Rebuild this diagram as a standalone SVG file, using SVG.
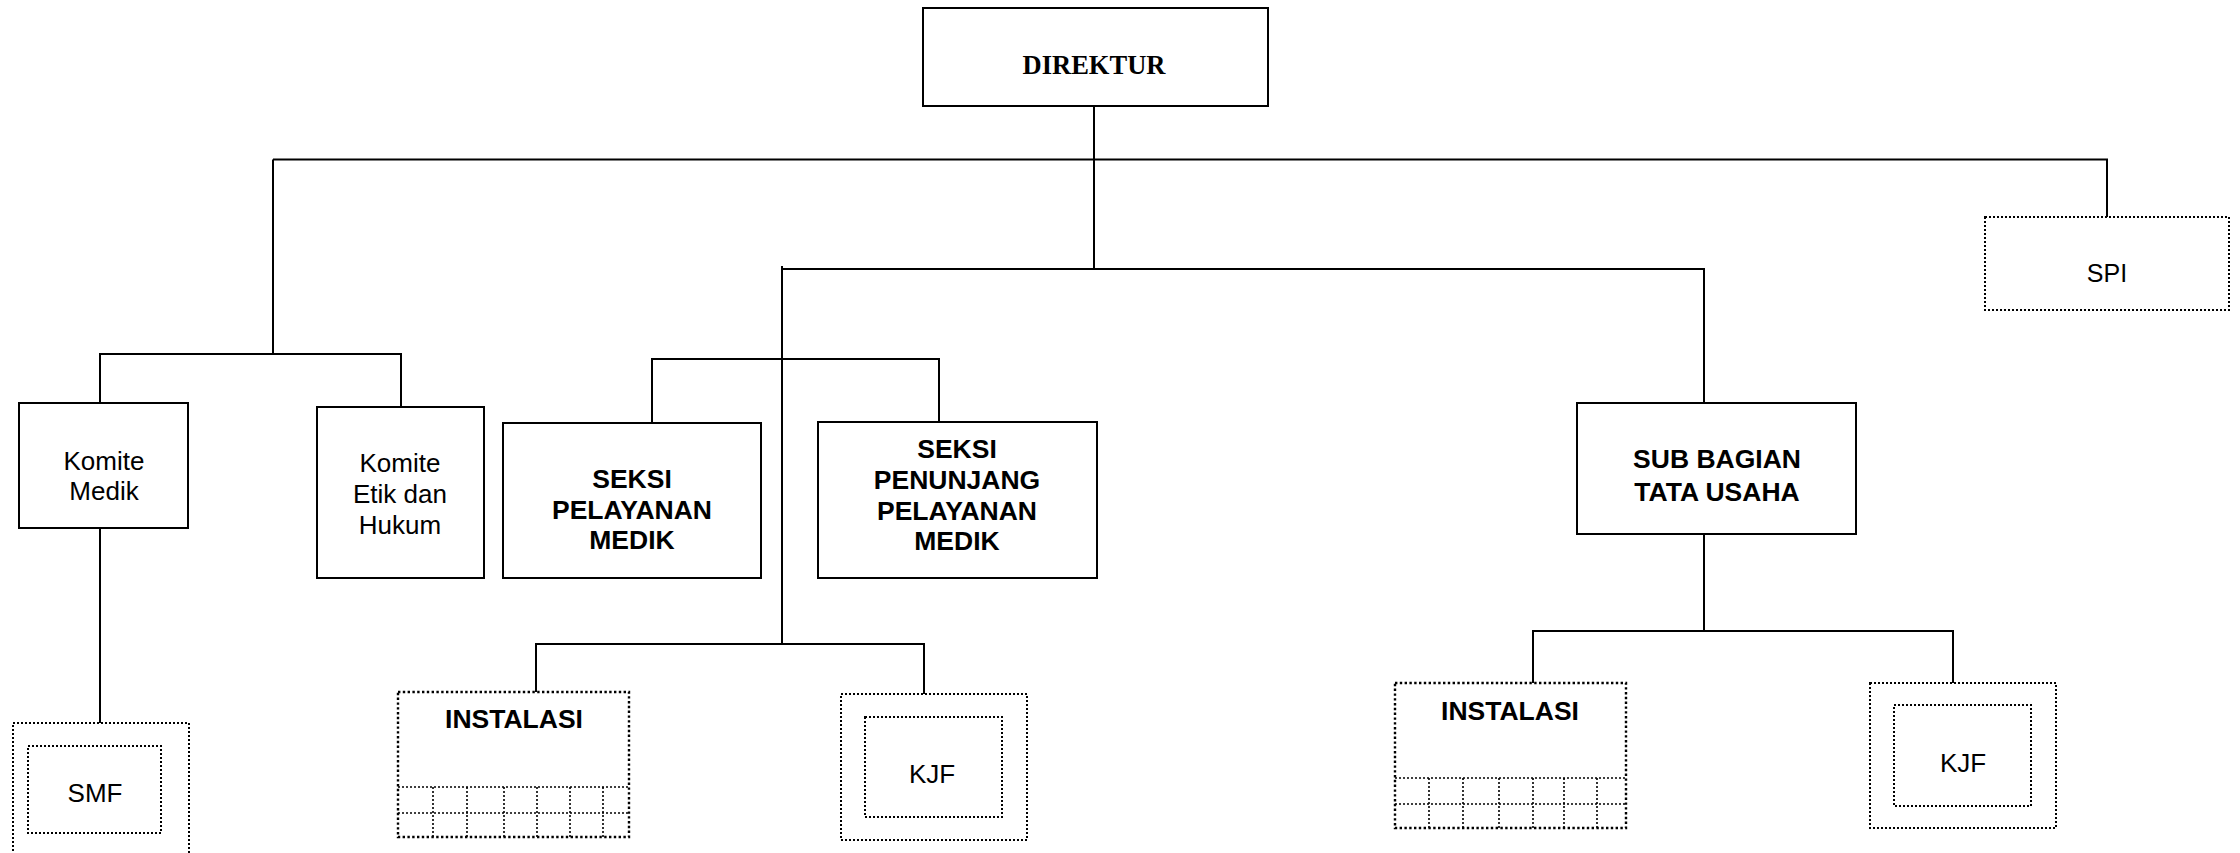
<svg xmlns="http://www.w3.org/2000/svg" width="2240" height="853" viewBox="0 0 2240 853">
<style>
.box{fill:#fff;stroke:#000;stroke-width:2}
.dot{fill:none;stroke:#000;stroke-width:2;stroke-dasharray:2 2}
.dot2{fill:none;stroke:#000;stroke-width:2.4;stroke-dasharray:2.4 2.4}
.grid{fill:none;stroke:#000;stroke-width:1.6;stroke-dasharray:2 2}
.ln{fill:none;stroke:#000;stroke-width:2}
.t{font-family:"Liberation Sans",Arial,sans-serif;font-size:26px;text-anchor:middle;fill:#000}
.b{font-family:"Liberation Sans",Arial,sans-serif;font-size:26.5px;font-weight:bold;text-anchor:middle;fill:#000}
.s{font-family:"Liberation Serif","Times New Roman",serif;font-size:26.5px;font-weight:bold;text-anchor:middle;fill:#000}
</style>
<rect width="2240" height="853" fill="#fff"/>
<g id="connectors">
<path class="ln" d="M1094 106V269"/>
<path class="ln" d="M273 159.5H2107V217"/>
<path class="ln" d="M273 159.5V354"/>
<path class="ln" d="M100 403V354H401V407"/>
<path class="ln" d="M100 528V723"/>
<path class="ln" d="M782 266V644"/>
<path class="ln" d="M782 269H1704V403"/>
<path class="ln" d="M652 423V359H939V422"/>
<path class="ln" d="M536 692V644H924V694"/>
<path class="ln" d="M1704 534V631"/>
<path class="ln" d="M1533 683V631H1953V683"/>
</g>
<g id="direktur">
<rect class="box" x="923" y="8" width="345" height="98"/>
<text class="s" x="1094" y="74">DIREKTUR</text>
</g>
<g id="spi">
<rect class="dot" x="1985" y="217" width="244" height="93"/>
<text class="t" x="2107" y="282" style="font-size:25px">SPI</text>
</g>
<g id="komite-medik">
<rect class="box" x="19" y="403" width="169" height="125"/>
<text class="t" x="104" y="470">Komite</text>
<text class="t" x="104" y="500">Medik</text>
</g>
<g id="komite-etik">
<rect class="box" x="317" y="407" width="167" height="171"/>
<text class="t" x="400" y="472">Komite</text>
<text class="t" x="400" y="503">Etik dan</text>
<text class="t" x="400" y="534">Hukum</text>
</g>
<g id="seksi-pelayanan">
<rect class="box" x="503" y="423" width="258" height="155"/>
<text class="b" x="632" y="488">SEKSI</text>
<text class="b" x="632" y="519">PELAYANAN</text>
<text class="b" x="632" y="549">MEDIK</text>
</g>
<g id="seksi-penunjang">
<rect class="box" x="818" y="422" width="279" height="156"/>
<text class="b" x="957" y="458">SEKSI</text>
<text class="b" x="957" y="489">PENUNJANG</text>
<text class="b" x="957" y="520">PELAYANAN</text>
<text class="b" x="957" y="550">MEDIK</text>
</g>
<g id="sub-bagian">
<rect class="box" x="1577" y="403" width="279" height="131"/>
<text class="b" x="1717" y="468">SUB BAGIAN</text>
<text class="b" x="1717" y="501">TATA USAHA</text>
</g>
<g id="smf">
<rect class="dot" x="13" y="723" width="176" height="150"/>
<rect class="dot" x="28" y="746" width="133" height="87"/>
<text class="t" x="95" y="802">SMF</text>
</g>
<g id="instalasi-1">
<rect class="dot2" x="398" y="692" width="231" height="145"/>
<path class="grid" d="M398 787H629M398 813H629M433 787V837M467 787V837M504 787V837M537 787V837M570 787V837M603 787V837"/>
<text class="b" x="514" y="728">INSTALASI</text>
</g>
<g id="kjf-1">
<rect class="dot" x="841" y="694" width="186" height="146"/>
<rect class="dot" x="865" y="717" width="137" height="100"/>
<text class="t" x="932" y="783">KJF</text>
</g>
<g id="instalasi-2">
<rect class="dot2" x="1395" y="683" width="231" height="145"/>
<path class="grid" d="M1395 778H1626M1395 804H1626M1429 778V828M1463 778V828M1499 778V828M1533 778V828M1564 778V828M1597 778V828"/>
<text class="b" x="1510" y="720">INSTALASI</text>
</g>
<g id="kjf-2">
<rect class="dot" x="1870" y="683" width="186" height="145"/>
<rect class="dot" x="1894" y="705" width="137" height="101"/>
<text class="t" x="1963" y="772">KJF</text>
</g>
</svg>
